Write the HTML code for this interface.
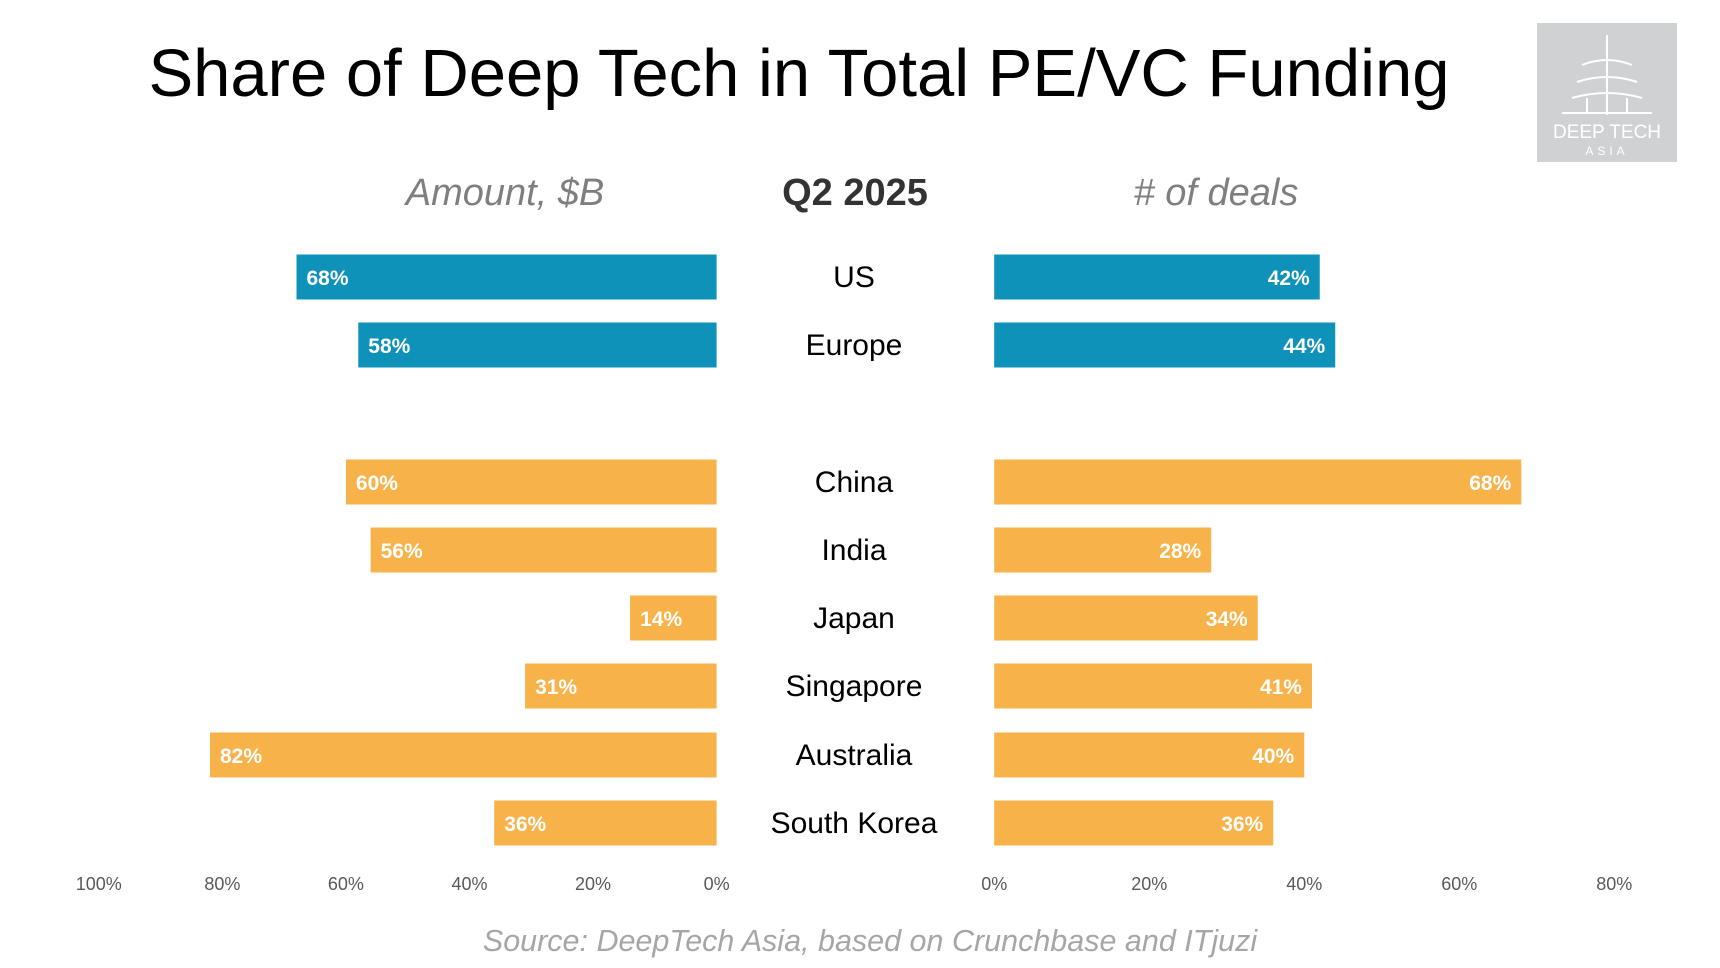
<!DOCTYPE html>
<html><head><meta charset="utf-8"><style>
body{margin:0;width:1720px;height:968px;background:#fff;overflow:hidden;font-family:"Liberation Sans",sans-serif;}
#c{position:absolute;left:0;top:0}
</style></head><body>
<svg id="c" width="1720" height="968" xmlns="http://www.w3.org/2000/svg">
<text x="799" y="96" text-anchor="middle" font-size="67" fill="#000">Share of Deep Tech in Total PE/VC Funding</text>
<text x="505" y="205" text-anchor="middle" font-size="38" font-style="italic" fill="#7f7f7f">Amount, $B</text>
<text x="855" y="205" text-anchor="middle" font-size="38" font-weight="bold" fill="#333">Q2 2025</text>
<text x="1216" y="205" text-anchor="middle" font-size="38" font-style="italic" fill="#7f7f7f"># of deals</text>
<g>
<rect x="1537" y="23" width="140" height="139" fill="#d0d1d3"/>
<path d="M1607 35 L1607 115 M1582 65 Q1607 55 1632 65 M1577 82 Q1607 72 1637 82 M1572 98 Q1607 88 1642 98 M1587 98 L1587 112 M1627 98 L1627 112 M1562 113 L1652 113" stroke="#fff" stroke-width="2" fill="none"/>
<text x="1607" y="138" text-anchor="middle" font-size="19" fill="#fff">DEEP TECH</text>
<text x="1607" y="155" text-anchor="middle" font-size="12" letter-spacing="4" fill="#fff">ASIA</text>
</g>
<g id="bars"></g>
<text x="870" y="951" text-anchor="middle" font-size="30.5" font-style="italic" fill="#a6a6a6">Source: DeepTech Asia, based on Crunchbase and ITjuzi</text>
</svg>
<script>
const categories=["US","Europe","China","India","Japan","Singapore","Australia","South Korea"];
const amountShare=[68,58,60,56,14,31,82,36];
const dealShare=[42,44,68,28,34,41,40,36];
const leftTicks=[100,80,60,40,20,0];
const rightTicks=[0,20,40,60,80];
const rowY=[277,345,482,550,618,686,755,823];
const NS="http://www.w3.org/2000/svg";
const g=document.getElementById('bars');
const L0=716.6, R0=994.2;
const lx=v=>L0-v*6.178, rx=v=>R0+v*7.751;
function el(t,a){const e=document.createElementNS(NS,t);for(const k in a)e.setAttribute(k,a[k]);g.appendChild(e);return e;}
categories.forEach((c,i)=>{
 const col=i<2?"#0e92b9":"#f8b24a";const y=rowY[i];
 let r=el('rect',{x:lx(amountShare[i]),y:y-22.5,width:L0-lx(amountShare[i]),height:45,fill:col});
 
 
 let t=el('text',{x:lx(amountShare[i])+10,y:y+8,'font-size':21,'font-weight':'bold',fill:'#fff'});t.textContent=amountShare[i]+'%';
 
 
 r=el('rect',{x:R0,y:y-22.5,width:rx(dealShare[i])-R0,height:45,fill:col});
 
 
 t=el('text',{x:rx(dealShare[i])-10,y:y+8,'font-size':21,'font-weight':'bold',fill:'#fff','text-anchor':'end'});t.textContent=dealShare[i]+'%';
 
 
 t=el('text',{x:854,y:y+10,'font-size':30,fill:'#000','text-anchor':'middle'});t.textContent=c;
 
 
});
leftTicks.forEach(v=>{const t=el('text',{x:lx(v),y:890,'font-size':18,fill:'#595959','text-anchor':'middle'});t.textContent=v+'%';
 
 });
rightTicks.forEach(v=>{const t=el('text',{x:rx(v),y:890,'font-size':18,fill:'#595959','text-anchor':'middle'});t.textContent=v+'%';
 
 });
</script>
</body></html>
